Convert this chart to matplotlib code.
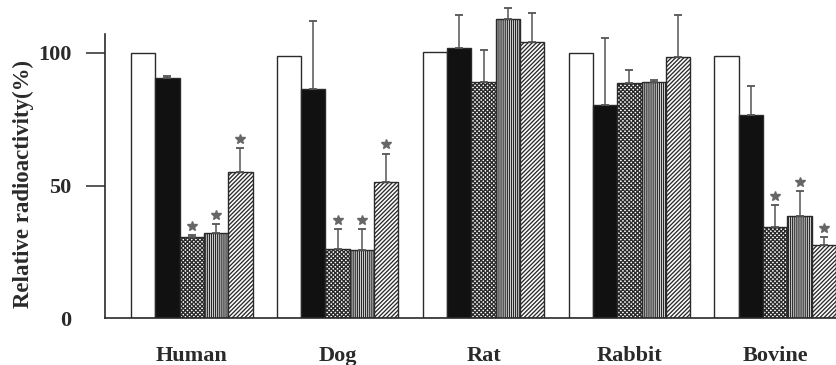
import numpy as np
import matplotlib
matplotlib.use("Agg")
from matplotlib import pyplot as plt

SPECIES = ["Human", "Dog", "Rat", "Rabbit", "Bovine"]

# relative radioactivity (%) per treatment, one list per species
HUMAN = [100, 90.5, 30.5, 32, 55]
DOG = [99, 86.5, 26, 25.5, 51.5]
RAT = [100.5, 102, 89, 113, 104]
RABBIT = [100, 80.5, 88.5, 89, 98.5]
BOVINE = [99, 76.5, 34.5, 38.5, 27.5]

# upper error (SD) for each bar
HUMAN_ERR = [0, 0.8, 0.8, 3.5, 9]
DOG_ERR = [0, 25.5, 7.5, 8, 10.5]
RAT_ERR = [0, 12.5, 12, 4, 11]
RABBIT_ERR = [0, 25, 5, 1, 16]
BOVINE_ERR = [0, 11, 8, 9.5, 3]

# significant difference from control
HUMAN_SIG = [False, False, True, True, True]
DOG_SIG = [False, False, True, True, True]
RAT_SIG = [False] * 5
RABBIT_SIG = [False] * 5
BOVINE_SIG = [False, False, True, True, True]

values = np.array([HUMAN, DOG, RAT, RABBIT, BOVINE])
errors = np.array([HUMAN_ERR, DOG_ERR, RAT_ERR, RABBIT_ERR, BOVINE_ERR])
signif = np.array([HUMAN_SIG, DOG_SIG, RAT_SIG, RABBIT_SIG, BOVINE_SIG])

FILLS = ["white", "#111111", "white", "white", "white"]
HATCHES = [None, None, "xxxxxxxx", "||||||||", "////////"]

plt.rcParams["font.family"] = ["Liberation Serif", "DejaVu Serif"]
plt.rcParams["font.weight"] = "bold"
plt.rcParams["hatch.linewidth"] = 0.95
plt.rcParams["hatch.color"] = "#333333"

INK = "#2a2a2a"

fig = plt.figure(figsize=(8.36, 3.65), dpi=100)
ax = fig.add_axes([105 / 836, 47 / 365, 1 - 105 / 836, 318 / 365])

n_groups, n_bars = values.shape
for g in range(n_groups):
	for b in range(n_bars):
		x = g * (n_bars + 1) + b + 0.5
		ax.bar(x, values[g, b], width=1.0, color=FILLS[b], edgecolor=INK,
			linewidth=1.0, hatch=HATCHES[b], zorder=2)
		top = values[g, b]
		if errors[g, b] > 0:
			ax.errorbar(x, values[g, b], yerr=[[0], [errors[g, b]]], fmt="none",
				ecolor="#555555", elinewidth=1.1, capsize=3, capthick=1.3, zorder=3)
			top += errors[g, b]
		if signif[g, b]:
			ax.plot(x, top + 3.5, marker="*", markersize=7.5, color="#666666",
				linestyle="none", zorder=4)

centers = [g * (n_bars + 1) + n_bars / 2 for g in range(n_groups)]
ax.set_xticks(centers, labels=SPECIES)
ax.tick_params(axis="x", length=0, pad=20, labelsize=16, labelcolor=INK)

ax.set_xlim(-1.07, 29.0)
ax.set_ylim(0, 120)
ax.set_yticks([0, 50, 100])
ax.tick_params(axis="y", length=14, width=1.1, color=INK, pad=10, labelsize=16, labelcolor=INK)
ax.yaxis.get_major_ticks()[0].tick1line.set_visible(False)

for side in ["top", "right"]:
	ax.spines[side].set_visible(False)
for side in ["left", "bottom"]:
	ax.spines[side].set_color(INK)
	ax.spines[side].set_linewidth(1.2)
ax.spines["left"].set_bounds(0, 107)

fig.text(23 / 836, 1 - 183.5 / 365, "Relative radioactivity(%)", rotation=90,
	ha="center", va="center", fontsize=16.5, color=INK)

fig.savefig("out.png", dpi=100)
